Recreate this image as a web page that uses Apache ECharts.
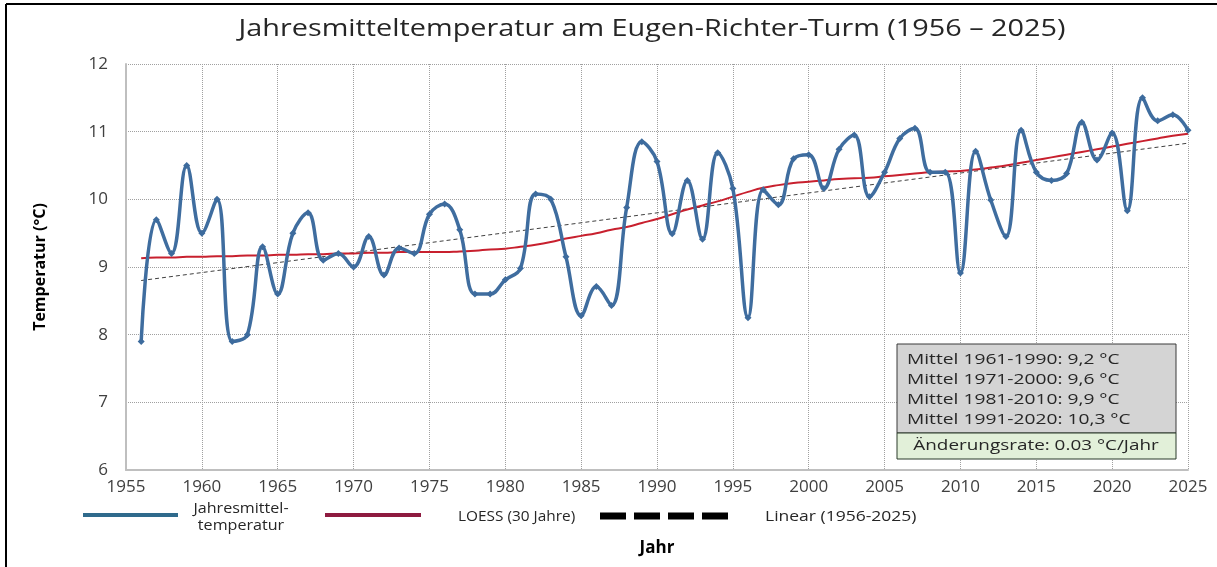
<!DOCTYPE html>
<html>
<head>
<meta charset="utf-8">
<script src="https://cdn.jsdelivr.net/npm/echarts@6/dist/echarts.min.js"></script>
<style>
html,body{margin:0;padding:0;background:#fff;}
#c{width:1217px;height:567px;}
</style>
</head>
<body>
<div id="c"></div>
<script>
// ---- data ----
const years = [1956,1957,1958,1959,1960,1961,1962,1963,1964,1965,1966,1967,1968,1969,1970,1971,1972,1973,1974,1975,1976,1977,1978,1979,1980,1981,1982,1983,1984,1985,1986,1987,1988,1989,1990,1991,1992,1993,1994,1995,1996,1997,1998,1999,2000,2001,2002,2003,2004,2005,2006,2007,2008,2009,2010,2011,2012,2013,2014,2015,2016,2017,2018,2019,2020,2021,2022,2023,2024,2025];
const annualMean = [7.9,9.7,9.2,10.5,9.5,10.0,7.9,8.0,9.3,8.6,9.5,9.8,9.1,9.2,9.0,9.45,8.88,9.28,9.2,9.78,9.93,9.55,8.6,8.6,8.81,8.98,10.08,10.0,9.15,8.28,8.71,8.43,9.88,10.85,10.56,9.49,10.28,9.41,10.69,10.16,8.25,10.14,9.92,10.6,10.66,10.16,10.74,10.95,10.04,10.4,10.9,11.05,10.4,10.4,8.91,10.71,9.99,9.45,11.02,10.4,10.28,10.38,11.14,10.58,10.98,9.83,11.5,11.16,11.25,11.02];
const loess30 = [9.13,9.14,9.14,9.15,9.15,9.16,9.16,9.17,9.17,9.18,9.18,9.19,9.19,9.2,9.2,9.21,9.21,9.22,9.22,9.22,9.22,9.23,9.24,9.26,9.27,9.3,9.33,9.37,9.42,9.46,9.5,9.55,9.59,9.65,9.71,9.78,9.85,9.91,9.97,10.04,10.11,10.17,10.21,10.24,10.26,10.28,10.3,10.31,10.32,10.34,10.36,10.38,10.4,10.41,10.42,10.44,10.47,10.5,10.54,10.58,10.62,10.66,10.7,10.74,10.78,10.82,10.86,10.9,10.94,10.97];
const linearYears = [1956, 2025];
const linearValues = [8.8, 10.83];
const titleText = 'Jahresmitteltemperatur am Eugen-Richter-Turm (1956 – 2025)';
const boxLines = ['Mittel 1961-1990: 9,2 °C','Mittel 1971-2000: 9,6 °C','Mittel 1981-2010: 9,9 °C','Mittel 1991-2020: 10,3 °C'];
const rateText = 'Änderungsrate: 0.03 °C/Jahr';
const legendNames = ['Jahresmittel-\ntemperatur','LOESS (30 Jahre)','Linear (1956-2025)'];

const zip = (a,b)=>a.map((x,i)=>[x,b[i]]);
const FONT = '"Open Sans", sans-serif';

const chart = echarts.init(document.getElementById('c'), null, {renderer:'canvas'});

const graphics = [
  // frame (top + left)
  {type:'line', shape:{x1:6,y1:4,x2:1217,y2:4}, style:{stroke:'#000',lineWidth:2}},
  {type:'line', shape:{x1:6,y1:4,x2:6,y2:567}, style:{stroke:'#000',lineWidth:2}},
  // title
  {type:'text', x:652, y:29, scaleX:1.2, style:{text:titleText, font:'24px '+FONT, fill:'#262626', align:'center', verticalAlign:'middle'}},
  // legend
  {type:'line', shape:{x1:83,y1:515,x2:178,y2:515}, style:{stroke:'#2f6a8c',lineWidth:4}},
  {type:'text', x:241, y:518, scaleX:1.15, style:{text:legendNames[0], font:'14px '+FONT, fill:'#262626', align:'center', verticalAlign:'middle', lineHeight:17}},
  {type:'line', shape:{x1:325,y1:515,x2:421,y2:515}, style:{stroke:'#8e1b40',lineWidth:4}},
  {type:'text', x:458, y:517, scaleX:1.1, style:{text:legendNames[1], font:'14px '+FONT, fill:'#262626', align:'left', verticalAlign:'middle'}},
  {type:'line', shape:{x1:600,y1:516,x2:732,y2:516}, style:{stroke:'#000',lineWidth:7,lineDash:[26,8]}},
  {type:'text', x:765, y:517, scaleX:1.25, style:{text:legendNames[2], font:'14px '+FONT, fill:'#262626', align:'left', verticalAlign:'middle'}},
  // info box
  {type:'rect', shape:{x:897,y:344,width:279,height:89}, style:{fill:'#d4d4d4',stroke:'#3a3a3a',lineWidth:1}, z:100},
  {type:'rect', shape:{x:897,y:433,width:279,height:26}, style:{fill:'#e2f0d9',stroke:'#2b3b2b',lineWidth:1}, z:100}
];
boxLines.forEach((t,i)=>{
  graphics.push({type:'text', x:907, y:360+i*20, z:101, scaleX:1.28, style:{text:t, font:'15px '+FONT, fill:'#262626', align:'left', verticalAlign:'middle'}});
});
graphics.push({type:'text', x:1036, y:446, z:101, scaleX:1.26, style:{text:rateText, font:'15px '+FONT, fill:'#262626', align:'center', verticalAlign:'middle'}});

chart.setOption({
  animation:false,
  backgroundColor:'#fff',
  grid:{left:126, right:29, top:64, bottom:97, containLabel:false},
  xAxis:{
    type:'value', min:1955, max:2025, interval:5,
    name:'Jahr', nameLocation:'middle', nameGap:70,
    nameTextStyle:{fontFamily:FONT, fontSize:17, fontWeight:'bold', color:'#000'},
    axisLine:{show:true, lineStyle:{color:'#bfbfbf', width:2}},
    axisTick:{show:false},
    axisLabel:{fontFamily:FONT, fontSize:17, color:'#404040', margin:9, formatter:(v)=>String(v)},
    splitLine:{show:true, lineStyle:{color:'#a0a0a0', width:1, type:'dotted'}}
  },
  yAxis:{
    type:'value', min:6, max:12, interval:1,
    name:'Temperatur (°C)', nameLocation:'middle', nameGap:78, nameRotate:90,
    nameTextStyle:{fontFamily:FONT, fontSize:16, fontWeight:'bold', color:'#000'},
    axisLine:{show:true, lineStyle:{color:'#bfbfbf', width:2}},
    axisTick:{show:false},
    axisLabel:{fontFamily:FONT, fontSize:17, color:'#404040', margin:18},
    splitLine:{show:true, lineStyle:{color:'#a0a0a0', width:1, type:'dotted'}}
  },
  series:[
    {name:legendNames[2], type:'line', data:zip(linearYears, linearValues), showSymbol:false, symbol:'none',
     lineStyle:{color:'#404040', width:1, type:[4,3]}, z:2},
    {name:legendNames[1], type:'line', data:zip(years, loess30), smooth:true, showSymbol:false, symbol:'none',
     lineStyle:{color:'#c8202e', width:2}, z:3},
    {name:legendNames[0], type:'line', data:zip(years, annualMean), smooth:0.4, symbol:'diamond', symbolSize:7,
     itemStyle:{color:'#3d6b9d'}, lineStyle:{color:'#3f6d9f', width:3.5}, z:4}
  ],
  graphic:graphics
});
</script>
</body>
</html>
